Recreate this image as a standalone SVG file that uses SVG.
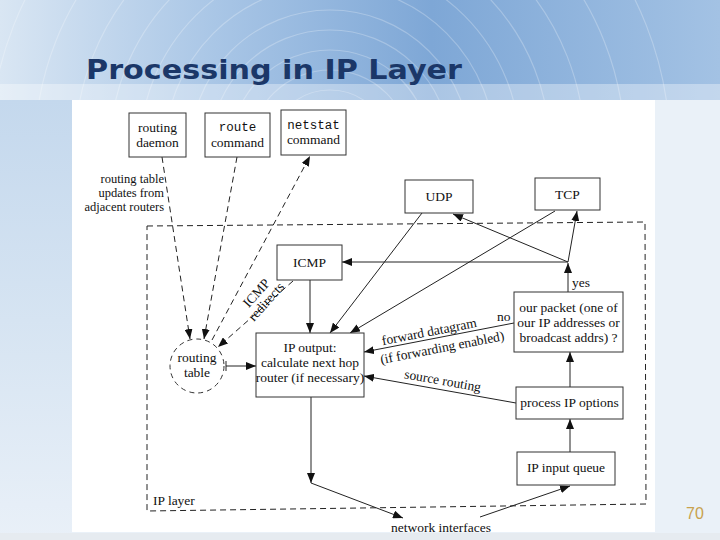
<svg xmlns="http://www.w3.org/2000/svg" width="720" height="540" viewBox="0 0 720 540">
<defs>
  <linearGradient id="banner" x1="0" y1="0" x2="1" y2="0">
    <stop offset="0" stop-color="#d9e6f3"/>
    <stop offset="0.3" stop-color="#a9c6e6"/>
    <stop offset="0.6" stop-color="#7ea7d6"/>
    <stop offset="1" stop-color="#a3c2e4"/>
  </linearGradient>
  <linearGradient id="leftcol" x1="0" y1="0" x2="0" y2="1">
    <stop offset="0" stop-color="#c4d8ed"/>
    <stop offset="0.5" stop-color="#d6e4f2"/>
    <stop offset="1" stop-color="#e9f0f8"/>
  </linearGradient>
  <clipPath id="bclip"><rect x="0" y="0" width="720" height="100"/></clipPath>
  <marker id="ah" viewBox="0 0 10 8" refX="10" refY="4" markerWidth="10" markerHeight="8" markerUnits="userSpaceOnUse" orient="auto">
    <path d="M0,0 L10,4 L0,8 Z" fill="#111"/>
  </marker>
</defs>
<style>
  .box { fill: #fff; stroke: #333; stroke-width: 1; }
  .t { font-family: "Liberation Serif", "DejaVu Serif", serif; font-size: 13.5px; fill: #111; text-anchor: middle; }
  .tl { font-family: "Liberation Serif", "DejaVu Serif", serif; font-size: 13.5px; fill: #111; }
  .ts { font-family: "Liberation Serif", "DejaVu Serif", serif; font-size: 12.5px; fill: #111; text-anchor: end; }
  .mono { font-family: "Liberation Mono", "DejaVu Sans Mono", monospace; font-size: 12.5px; fill: #111; text-anchor: middle; }
  .ln { stroke: #222; stroke-width: 1; fill: none; }
  .dl { stroke: #222; stroke-width: 1; fill: none; stroke-dasharray: 6 4; }
  .arr { marker-end: url(#ah); }
</style>

<!-- background -->
<rect x="0" y="0" width="720" height="540" fill="#eaf1f8"/>
<rect x="0" y="100" width="72" height="440" fill="url(#leftcol)"/>
<rect x="0" y="0" width="720" height="100" fill="url(#banner)"/>
<g clip-path="url(#bclip)" fill="none" stroke="#ffffff" stroke-opacity="0.25" stroke-width="1.2">
  <circle cx="330" cy="150" r="60"/>
  <circle cx="330" cy="150" r="80"/>
  <circle cx="330" cy="150" r="100"/>
  <circle cx="330" cy="150" r="120"/>
  <circle cx="330" cy="150" r="140"/>
  <circle cx="330" cy="150" r="165"/>
  <circle cx="330" cy="150" r="190"/>
  <circle cx="330" cy="150" r="220"/>
  <circle cx="330" cy="150" r="255"/>
  <circle cx="330" cy="150" r="295"/>
  <circle cx="330" cy="150" r="340"/>
</g>
<rect x="0" y="84" width="720" height="16" fill="#ffffff" fill-opacity="0.35"/>
<rect x="72" y="100" width="583" height="432" fill="#ffffff"/>
<rect x="0" y="533" width="720" height="7" fill="#e6ebf0"/>

<text x="86" y="79" font-family="'DejaVu Sans Condensed', 'DejaVu Sans', sans-serif" font-weight="bold" font-size="26" fill="#1b3768" textLength="376" lengthAdjust="spacingAndGlyphs">Processing in IP Layer</text>
<text x="695" y="519" font-family="'Liberation Sans', Arial, sans-serif" font-size="16" fill="#c8a24e" text-anchor="middle">70</text>

<!-- IP layer boundary -->
<g id="ip-layer">
  <path class="dl" d="M147,226 L645,222 L646,504 L147,511 Z"/>
  <text class="tl" x="153" y="505">IP layer</text>
</g>

<!-- connectors -->
<g id="connectors">
  <line class="dl arr" x1="162" y1="157" x2="190" y2="339"/>
  <line class="dl arr" x1="237" y1="157" x2="204" y2="339"/>
  <line class="dl arr" x1="212" y1="340" x2="310" y2="156"/>
  <line class="dl arr" x1="293" y1="281" x2="218" y2="347"/>
  <line class="ln" x1="226" y1="361" x2="226" y2="371"/>
  <line class="ln arr" x1="226" y1="366" x2="256" y2="366"/>
  <line class="ln arr" x1="310" y1="280" x2="310" y2="333"/>
  <line class="ln arr" x1="568" y1="292" x2="568" y2="263"/>
  <line class="ln arr" x1="568" y1="262" x2="342" y2="262"/>
  <line class="ln arr" x1="568" y1="262" x2="453" y2="214"/>
  <line class="ln arr" x1="568" y1="262" x2="577" y2="211"/>
  <line class="ln arr" x1="422" y1="213" x2="330" y2="333"/>
  <line class="ln arr" x1="555" y1="211" x2="350" y2="333"/>
  <line class="ln arr" x1="514" y1="323" x2="364" y2="352"/>
  <line class="ln arr" x1="516" y1="403" x2="364" y2="376"/>
  <line class="ln arr" x1="570" y1="387" x2="570" y2="352"/>
  <line class="ln arr" x1="570" y1="452" x2="570" y2="419"/>
  <line class="ln arr" x1="311" y1="397" x2="311" y2="483"/>
  <line class="ln arr" x1="311" y1="483" x2="403" y2="518"/>
  <line class="ln arr" x1="480" y1="517" x2="570" y2="486"/>
  <text class="ts" x="164" y="183">routing table</text>
  <text class="ts" x="164" y="197">updates from</text>
  <text class="ts" x="164" y="211">adjacent routers</text>
  <g transform="translate(262,298) rotate(-48)">
    <text class="t" x="0" y="-3">ICMP</text>
    <text class="t" x="0" y="10">redirects</text>
  </g>
  <text class="tl" x="572" y="287">yes</text>
  <text class="tl" x="497" y="321">no</text>
  <text class="t" transform="translate(430,336) rotate(-11)">forward datagram</text>
  <text class="t" transform="translate(443,352) rotate(-11)">(if forwarding enabled)</text>
  <text class="t" transform="translate(442,385) rotate(10)">source routing</text>
  <text class="t" x="441" y="532">network interfaces</text>
</g>

<!-- nodes -->
<g id="routing-daemon">
  <rect class="box" x="129" y="113" width="57" height="44"/>
  <text class="t" x="157.5" y="132">routing</text>
  <text class="t" x="157.5" y="147">daemon</text>
</g>
<g id="route-command">
  <rect class="box" x="205" y="113" width="65" height="44"/>
  <text class="mono" x="237.5" y="131">route</text>
  <text class="t" x="237.5" y="147">command</text>
</g>
<g id="netstat-command">
  <rect class="box" x="281" y="110" width="65" height="45"/>
  <text class="mono" x="313.5" y="129">netstat</text>
  <text class="t" x="313.5" y="144">command</text>
</g>
<g id="udp">
  <rect class="box" x="405" y="180" width="68" height="33"/>
  <text class="t" x="439" y="201">UDP</text>
</g>
<g id="tcp">
  <rect class="box" x="535" y="178" width="65" height="32"/>
  <text class="t" x="567.5" y="199">TCP</text>
</g>
<g id="icmp">
  <rect class="box" x="277" y="245" width="65" height="35"/>
  <text class="t" x="309.5" y="267">ICMP</text>
</g>
<g id="routing-table">
  <circle cx="197" cy="366" r="27" fill="#fff" stroke="#333" stroke-width="1" stroke-dasharray="5 4"/>
  <text class="t" x="197" y="362">routing</text>
  <text class="t" x="197" y="377">table</text>
</g>
<g id="ip-output">
  <rect class="box" x="256" y="333" width="108" height="64"/>
  <text class="t" x="310" y="352">IP output:</text>
  <text class="t" x="310" y="367">calculate next hop</text>
  <text class="t" x="310" y="382">router (if necessary)</text>
</g>
<g id="our-packet">
  <rect class="box" x="514" y="292" width="109" height="60"/>
  <text class="t" x="568.5" y="312">our packet (one of</text>
  <text class="t" x="568.5" y="327">our IP addresses or</text>
  <text class="t" x="568.5" y="342">broadcast addrs) ?</text>
</g>
<g id="process-ip-options">
  <rect class="box" x="516" y="387" width="107" height="32"/>
  <text class="t" x="569.5" y="407">process IP options</text>
</g>
<g id="ip-input-queue">
  <rect class="box" x="517" y="452" width="98" height="33"/>
  <text class="t" x="566" y="472">IP input queue</text>
</g>
</svg>
